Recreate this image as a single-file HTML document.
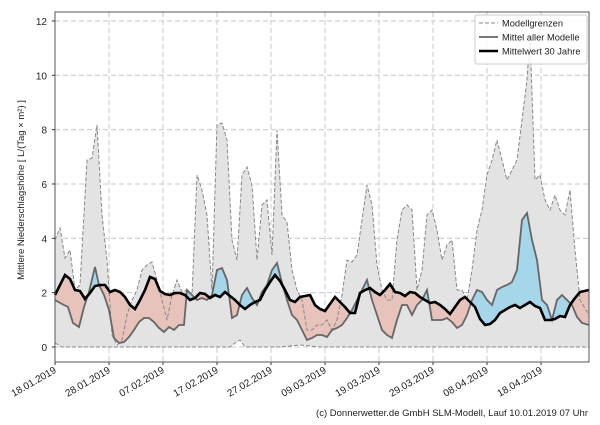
<!DOCTYPE html>
<html><head><meta charset="utf-8"><style>
body{margin:0;background:#fff;width:600px;height:420px;overflow:hidden}
svg text{font-family:"Liberation Sans","DejaVu Sans",sans-serif}
</style></head><body>
<svg id="s" width="600" height="420" xmlns="http://www.w3.org/2000/svg"></svg>
<script>
const up=[[55,240],[60,228],[65,258],[70,250],[75,290],[80,285],[87,160],[92,158],[97,125],[102,215],[107,260],[112,335],[117,345],[122,340],[127,315],[132,300],[137,290],[142,270],[147,265],[152,262],[157,280],[162,300],[167,320],[172,295],[177,280],[182,292],[187,290],[192,295],[197,175],[202,190],[207,215],[212,290],[217,125],[222,123],[227,140],[232,240],[237,260],[242,175],[247,167],[252,185],[257,260],[262,205],[267,200],[272,255],[277,130],[282,215],[287,222],[292,270],[297,290],[302,300],[307,330],[312,330],[317,325],[322,325],[327,320],[332,330],[337,320],[342,295],[347,260],[352,262],[357,255],[362,220],[367,185],[372,205],[377,265],[382,290],[387,300],[392,300],[397,240],[402,210],[407,205],[412,210],[417,290],[422,270],[427,215],[432,210],[437,230],[442,260],[447,245],[452,240],[457,290],[462,290],[467,300],[472,270],[477,230],[482,210],[487,175],[492,160],[497,140],[502,160],[507,180],[512,170],[517,160],[522,120],[527,80],[530,35],[535,180],[540,175],[545,200],[550,210],[555,195],[560,210],[565,215],[570,190],[575,250],[580,300],[589,315]];
const lo=[[55,343],[62,347],[230,347],[235,343],[240,340],[245,347],[280,347],[300,345],[320,347],[589,347]];
const mm=[[55,300],[62,304],[68,307],[73,323],[79,327],[84,307],[89,292],[95,267],[99,285],[104,295],[109,310],[114,338],[119,343],[124,342],[129,337],[134,330],[139,322],[144,318],[149,318],[154,322],[159,328],[164,332],[169,327],[174,330],[179,325],[184,325],[187,290],[192,295],[197,300],[202,298],[207,300],[212,295],[217,270],[222,268],[227,280],[232,318],[237,315],[242,295],[247,288],[252,298],[257,305],[262,292],[267,285],[272,270],[277,263],[282,283],[287,300],[292,315],[297,320],[302,330],[307,340],[312,338],[317,335],[322,335],[327,337],[332,330],[337,328],[342,325],[347,318],[352,310],[357,300],[362,290],[367,280],[372,300],[377,315],[382,330],[387,335],[392,338],[397,320],[402,305],[407,305],[412,315],[417,305],[422,300],[427,290],[432,320],[437,320],[442,320],[447,318],[452,322],[457,328],[462,325],[467,315],[472,300],[477,290],[482,292],[487,300],[492,305],[497,290],[502,287],[507,285],[512,282],[517,270],[522,220],[527,213],[532,240],[537,260],[542,300],[547,305],[552,320],[557,300],[562,295],[567,300],[572,305],[577,317],[582,323],[589,325]];
const cl=[[55,295],[60,285],[65,275],[70,279],[75,290],[80,291],[85,299],[90,293],[95,286],[100,285],[105,285],[110,292],[115,290],[120,292],[125,297],[130,305],[135,309],[140,300],[145,290],[150,277],[155,279],[160,291],[165,294],[170,295],[175,293],[180,293],[185,295],[190,300],[195,298],[200,293],[205,294],[210,298],[215,295],[220,297],[225,292],[230,296],[235,300],[240,305],[245,309],[250,305],[255,302],[260,300],[265,290],[270,282],[275,275],[280,281],[285,290],[290,300],[295,302],[300,297],[305,296],[310,295],[315,305],[320,309],[325,311],[330,304],[335,297],[340,302],[345,307],[350,313],[355,313],[360,293],[365,290],[370,288],[375,292],[380,295],[385,290],[390,284],[395,292],[400,293],[405,296],[410,292],[415,293],[420,297],[425,300],[430,303],[435,302],[440,305],[445,309],[450,314],[455,307],[460,300],[465,297],[470,302],[475,307],[480,319],[485,325],[490,324],[495,320],[500,313],[505,310],[510,307],[515,305],[520,308],[525,305],[530,302],[535,306],[540,308],[545,320],[550,320],[555,319],[560,316],[565,317],[570,305],[575,298],[580,292],[589,290]];
const P=a=>a.map(p=>p.join(',')).join(' ');
const R=a=>a.slice().reverse();
let h='';
const L=55,T=12,W=534,B=362;
h+=`<rect x="${L}" y="${T}" width="${W}" height="${B-T}" fill="#fff"/>`;
for(let v=0;v<=12;v+=2){const y=347-v*27.17;h+=`<line x1="${L}" x2="${L+W}" y1="${y}" y2="${y}" stroke="#c8c8c8" stroke-dasharray="5,3"/>`;}
const lab=['18.01.2019','28.01.2019','07.02.2019','17.02.2019','27.02.2019','09.03.2019','19.03.2019','29.03.2019','08.04.2019','18.04.2019'];
lab.forEach((t,i)=>{const x=L+i*54;h+=`<line x1="${x}" x2="${x}" y1="${T}" y2="${B}" stroke="#c8c8c8" stroke-dasharray="5,3"/>`;
h+=`<line x1="${x}" x2="${x}" y1="${B}" y2="${B+3}" stroke="#333"/>`;
h+=`<text transform="translate(${x+2},${B+10}) rotate(-30)" text-anchor="end" font-size="10" fill="#222">${t}</text>`;});
h+=`<polygon points="${P(up)} ${P(R(lo))}" fill="#e3e3e3" stroke="none"/>`;
h+=`<defs><clipPath id="ca"><polygon points="${P(cl)} 589,0 55,0"/></clipPath><clipPath id="cb"><polygon points="${P(cl)} 589,420 55,420"/></clipPath></defs>`;
const band=`${P(mm)} ${P(R(cl))}`;
h+=`<polygon points="${band}" fill="#a6d6ea" clip-path="url(#ca)"/>`;
h+=`<polygon points="${band}" fill="#e7c3bb" clip-path="url(#cb)"/>`;
h+=`<polyline points="${P(up)}" fill="none" stroke="#888" stroke-dasharray="4,2" stroke-width="1"/>`;
h+=`<polyline points="${P(lo)}" fill="none" stroke="#888" stroke-dasharray="4,2" stroke-width="1"/>`;
h+=`<polyline points="${P(mm)}" fill="none" stroke="#666" stroke-width="1.8"/>`;
h+=`<polyline points="${P(cl)}" fill="none" stroke="#000" stroke-width="2.6"/>`;
h+=`<rect x="${L}" y="${T}" width="${W}" height="${B-T}" fill="none" stroke="#555"/>`;
for(let v=0;v<=12;v+=2){const y=347-v*27.17;h+=`<line x1="${L-3}" x2="${L}" y1="${y}" y2="${y}" stroke="#333"/><text x="${L-8}" y="${y+4}" text-anchor="end" font-size="10" fill="#222">${v}</text>`;}
h+=`<text transform="translate(24,190) rotate(-90)" text-anchor="middle" font-size="9.5" fill="#222">Mittlere Niederschlagshöhe [ L/(Tag × m²) ]</text>`;
h+=`<rect x="475" y="15" width="112" height="49" rx="2" fill="#fff" fill-opacity="0.85" stroke="#ccc"/>`;
h+=`<line x1="479" x2="498" y1="23" y2="23" stroke="#888" stroke-dasharray="4,2"/><text x="502" y="26.5" font-size="9.3" fill="#222">Modellgrenzen</text>`;
h+=`<line x1="479" x2="498" y1="37" y2="37" stroke="#666" stroke-width="1.8"/><text x="502" y="40.5" font-size="9.3" fill="#222">Mittel aller Modelle</text>`;
h+=`<line x1="479" x2="498" y1="51" y2="51" stroke="#000" stroke-width="2.6"/><text x="502" y="54.5" font-size="9.3" fill="#222">Mittelwert 30 Jahre</text>`;
h+=`<text x="588" y="416" text-anchor="end" font-size="9.5" fill="#222">(c) Donnerwetter.de GmbH SLM-Modell, Lauf 10.01.2019 07 Uhr</text>`;
document.getElementById('s').innerHTML=h;
</script>
</body></html>
